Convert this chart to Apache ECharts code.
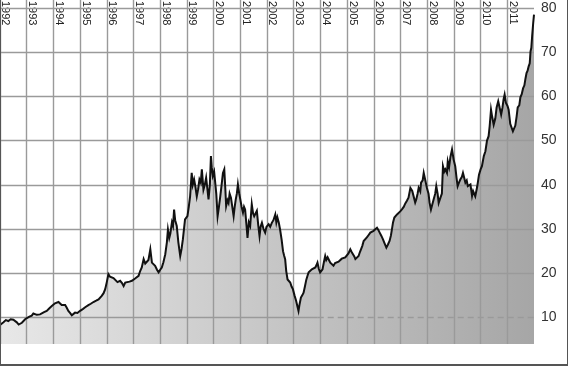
<!DOCTYPE html>
<html><head><meta charset="utf-8">
<script src="https://cdn.jsdelivr.net/npm/echarts@6/dist/echarts.min.js"></script>
<style>
html,body{margin:0;padding:0;background:#fff;}
#wrap{position:relative;width:568px;height:366px;}
#chart{width:568px;height:366px;}
#frame{position:absolute;left:0;top:0;width:566px;height:364px;border-left:1px solid #555;border-right:1px solid #555;border-bottom:2px solid #555;pointer-events:none;}
</style></head>
<body>
<div id="wrap"><div id="chart"></div><div id="frame"></div></div>
<script>
// decimal years of each sampled point
const years = [
1992.00,1992.06,1992.13,1992.22,1992.31,1992.40,1992.50,1992.57,1992.63,1992.70,1992.75,1992.82,1992.88,1992.94,
1993.00,1993.10,1993.19,1993.25,1993.31,1993.38,1993.44,1993.50,1993.56,1993.65,1993.75,1993.85,1993.94,
1994.00,1994.06,1994.12,1994.19,1994.25,1994.31,1994.38,1994.44,1994.50,1994.56,1994.63,1994.69,1994.75,1994.81,1994.90,
1995.00,1995.10,1995.19,1995.25,1995.31,1995.40,1995.50,1995.60,1995.69,1995.75,1995.81,1995.88,1995.94,
1996.00,1996.06,1996.12,1996.19,1996.25,1996.31,1996.40,1996.50,1996.57,1996.63,1996.69,1996.75,1996.85,1996.94,
1997.00,1997.06,1997.12,1997.19,1997.25,1997.31,1997.38,1997.44,1997.50,1997.56,1997.63,1997.69,1997.75,1997.81,1997.88,1997.94,
1998.00,1998.06,1998.12,1998.19,1998.25,1998.29,1998.34,1998.38,1998.44,1998.48,1998.52,1998.56,1998.62,1998.68,1998.75,1998.80,1998.85,1998.93,
1999.02,1999.07,1999.12,1999.18,1999.22,1999.27,1999.32,1999.37,1999.42,1999.47,1999.52,1999.56,1999.62,1999.67,1999.72,1999.76,1999.81,1999.86,1999.90,1999.93,1999.97,
2000.02,2000.06,2000.10,2000.15,2000.20,2000.25,2000.30,2000.35,2000.40,2000.44,2000.47,2000.52,2000.56,2000.60,2000.65,2000.70,2000.75,2000.79,2000.83,2000.87,2000.91,2000.96,
2001.00,2001.05,2001.10,2001.14,2001.18,2001.23,2001.27,2001.32,2001.37,2001.43,2001.48,2001.52,2001.57,2001.62,2001.67,2001.72,2001.76,2001.81,2001.87,2001.93,2001.98,
2002.06,2002.12,2002.18,2002.24,2002.31,2002.35,2002.39,2002.44,2002.49,2002.55,2002.60,2002.64,2002.68,2002.72,2002.77,2002.82,2002.87,2002.92,2002.97,
2003.03,2003.09,2003.14,2003.18,2003.22,2003.27,2003.32,2003.37,2003.42,2003.47,2003.52,2003.56,2003.62,2003.68,2003.75,2003.81,2003.85,2003.89,2003.94,2003.99,
2004.04,2004.08,2004.13,2004.18,2004.22,2004.27,2004.32,2004.37,2004.43,2004.49,2004.55,2004.62,2004.68,2004.74,2004.80,2004.87,2004.93,2004.99,
2005.05,2005.12,2005.17,2005.22,2005.27,2005.31,2005.37,2005.43,2005.48,2005.52,2005.57,2005.62,2005.68,2005.74,2005.80,2005.87,2005.93,2005.99,
2006.05,2006.12,2006.17,2006.22,2006.28,2006.34,2006.40,2006.47,2006.53,2006.59,2006.64,2006.68,2006.72,2006.77,2006.82,2006.87,2006.93,2006.99,
2007.06,2007.12,2007.18,2007.24,2007.30,2007.37,2007.44,2007.49,2007.55,2007.59,2007.64,2007.68,2007.74,2007.77,2007.83,2007.87,2007.93,2007.99,
2008.05,2008.09,2008.14,2008.18,2008.24,2008.30,2008.34,2008.39,2008.43,2008.49,2008.55,2008.59,2008.64,2008.68,2008.74,2008.77,2008.82,2008.87,2008.93,2008.99,
2009.05,2009.10,2009.14,2009.19,2009.24,2009.30,2009.34,2009.39,2009.43,2009.48,2009.52,2009.57,2009.62,2009.68,2009.72,2009.77,2009.80,2009.87,2009.94,
2010.00,2010.05,2010.12,2010.18,2010.24,2010.30,2010.34,2010.39,2010.43,2010.49,2010.55,2010.60,2010.66,2010.72,2010.77,2010.82,2010.86,2010.90,2010.95,
2011.01,2011.05,2011.11,2011.16,2011.21,2011.26,2011.30,2011.35,2011.39,2011.45,2011.49,2011.54,2011.59,2011.64,2011.68,2011.72,2011.76,2011.80,2011.84,2011.87,2011.90,2011.93,2011.97,2012.00
];
// price at each sampled point
const prices = [
8.3,8.7,8.9,9.4,9.2,9.6,9.5,9.2,8.9,8.4,8.1,8.8,9.2,9.6,
10.0,10.2,10.4,10.9,11.1,10.6,10.4,10.7,10.8,11.2,11.5,12.1,12.6,
12.9,13.2,13.0,13.5,13.1,12.8,13.0,12.8,12.2,11.5,11.0,10.5,10.9,11.1,11.0,
11.5,11.9,12.3,12.4,12.8,13.1,13.5,13.8,14.1,14.4,14.9,15.5,16.4,
18.0,19.8,19.2,19.4,18.9,18.6,18.0,18.3,17.8,17.1,17.9,18.3,18.1,18.3,
18.6,18.8,19.0,19.4,20.5,21.3,23.2,22.2,22.0,23.0,25.4,22.4,22.0,21.7,20.8,20.2,
20.8,21.3,22.5,24.3,27.0,29.9,28.0,29.0,31.5,30.7,34.4,32.0,30.7,27.0,23.9,25.5,27.7,32.2,
32.9,35.0,37.4,42.7,40.0,41.2,39.5,37.4,39.0,41.2,40.5,43.5,38.9,40.0,41.6,39.5,36.7,40.0,46.5,44.0,42.0,
43.0,42.7,38.0,32.9,35.0,37.4,40.0,42.7,43.5,39.0,35.2,36.5,35.9,38.0,37.1,35.0,32.9,35.0,36.7,38.0,40.1,38.0,
36.7,35.0,33.7,35.0,34.4,31.0,28.0,31.5,30.7,35.6,33.5,32.9,33.0,34.1,31.0,28.4,30.5,31.4,30.0,29.2,30.5,
31.1,30.5,31.4,32.0,33.3,31.5,32.6,31.5,29.9,27.5,25.0,24.0,23.2,20.5,18.6,18.5,17.9,17.0,16.4,
15.0,13.8,12.5,11.5,13.0,14.5,15.0,15.6,17.0,18.5,19.5,20.2,20.5,20.9,21.0,21.3,21.8,22.4,21.0,20.2,
20.5,20.9,22.5,23.9,23.0,23.6,23.0,22.4,22.0,21.7,22.3,22.0,22.6,22.8,23.3,23.2,23.6,23.9,
24.5,25.4,24.8,24.3,23.8,23.2,23.5,23.9,24.8,25.4,26.2,27.3,27.6,28.1,28.6,29.2,29.0,29.6,
30.0,30.3,29.8,29.2,28.5,27.7,26.8,25.8,26.5,27.3,28.5,30.0,31.5,32.6,32.8,33.3,33.0,34.0,
34.5,35.0,35.8,36.4,37.1,39.3,38.6,38.2,36.0,36.7,38.0,39.3,38.5,40.5,41.0,42.7,43.1,39.3,
38.0,35.9,34.4,34.8,36.7,38.0,39.7,38.0,35.9,37.0,38.0,44.2,43.0,43.5,42.7,45.3,44.0,46.3,48.0,45.7,
44.2,41.5,39.7,40.5,41.2,41.8,42.7,41.5,40.5,41.0,39.7,39.5,40.1,37.5,38.6,38.5,37.4,39.5,42.3,
43.5,44.2,46.5,47.6,50.0,51.0,53.3,57.0,55.5,53.6,55.0,57.5,58.9,59.2,55.9,57.5,59.3,60.4,58.5,
57.8,57.0,53.8,54.0,52.1,52.5,53.4,55.5,57.5,58.0,59.8,60.5,61.8,62.5,64.0,65.3,65.8,66.8,67.5,70.2,71.0,73.6,76.6,78.5
];
const yearTicks = [1992,1993,1994,1995,1996,1997,1998,1999,2000,2001,2002,2003,2004,2005,2006,2007,2008,2009,2010,2011];
const valueTicks = [10,20,30,40,50,60,70,80];
const dashStartYear = 2003.9;

const data = years.map((y, i) => [y, prices[i]]);
const gridColor = '#9a9a9a';
const markData = [];
yearTicks.forEach(y => markData.push({ xAxis: y }));
valueTicks.forEach(v => {
  if (v === 10) {
    markData.push([{ coord: [1992, v] }, { coord: [dashStartYear, v] }]);
    markData.push([{ coord: [dashStartYear, v], lineStyle: { type: [6, 4] } }, { coord: [2012, v] }]);
  } else {
    markData.push({ yAxis: v });
  }
});

const chart = echarts.init(document.getElementById('chart'), null, { renderer: 'canvas' });
chart.setOption({
  animation: false,
  backgroundColor: '#ffffff',
  grid: { left: 0, right: 34, top: 0, bottom: 22, containLabel: false, outerBoundsMode: 'none' },
  xAxis: {
    type: 'value', min: 1992, max: 2012, interval: 1, position: 'top',
    axisLine: { show: false }, axisTick: { show: false }, splitLine: { show: false },
    axisLabel: {
      inside: true, rotate: 90, margin: 1, fontSize: 11, color: '#222',
      fontFamily: 'Liberation Sans', verticalAlign: 'bottom',
      showMinLabel: true, showMaxLabel: false, hideOverlap: false,
      formatter: v => (v < 2012 ? String(v) : '')
    }
  },
  yAxis: {
    type: 'value', min: 4, max: 81.8, position: 'right',
    axisLine: { show: false }, axisTick: { show: false }, splitLine: { show: false },
    axisLabel: {
      customValues: valueTicks, margin: 7, fontSize: 14, color: '#333',
      fontFamily: 'Liberation Sans',
      formatter: v => (v % 10 === 0 && v >= 10 ? String(v) : '')
    }
  },
  series: [
    {
      type: 'line', data: data, showSymbol: false, symbol: 'none', z: 2,
      lineStyle: { width: 0, opacity: 0 },
      areaStyle: {
        origin: 'start', opacity: 1,
        color: new echarts.graphic.LinearGradient(0, 0, 1, 0, [
          { offset: 0, color: '#e8e8e8' },
          { offset: 1, color: '#a6a6a6' }
        ])
      },
      markLine: {
        silent: true, symbol: 'none', animation: false,
        label: { show: false },
        lineStyle: { color: gridColor, width: 1.4, type: 'solid' },
        emphasis: { disabled: true },
        data: markData
      }
    },
    {
      type: 'line', data: data, showSymbol: false, symbol: 'none', z: 10,
      lineStyle: { color: '#111', width: 2, join: 'miter' }
    }
  ]
});
</script>
</body></html>
